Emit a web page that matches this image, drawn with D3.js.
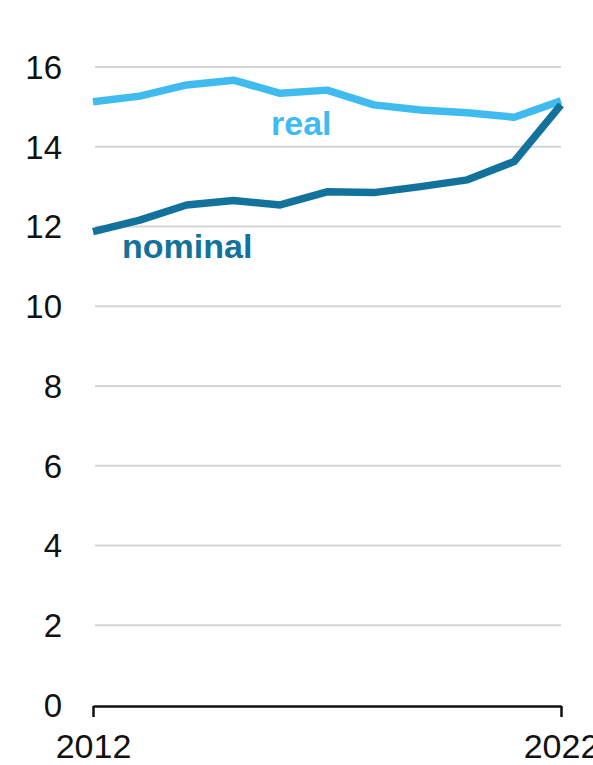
<!DOCTYPE html>
<html>
<head>
<meta charset="utf-8">
<script src="https://cdn.jsdelivr.net/npm/d3@7"></script>
<style>
  html, body { margin: 0; padding: 0; background: #fff; }
  svg { display: block; font-family: "Liberation Sans", Arial, sans-serif; }
</style>
</head>
<body>
<div id="chart"></div>
<script>
// data
const years = [2012, 2013, 2014, 2015, 2016, 2017, 2018, 2019, 2020, 2021, 2022];
const realValues = [15.13, 15.27, 15.55, 15.67, 15.34, 15.42, 15.05, 14.92, 14.85, 14.74, 15.15];
const nominalValues = [11.87, 12.16, 12.54, 12.65, 12.54, 12.87, 12.85, 13.0, 13.17, 13.63, 15.05];
const yTicks = [0, 2, 4, 6, 8, 10, 12, 14, 16];
const xTickLabels = [2012, 2022];

const width = 593, height = 765;
const margin = { left: 93, right: 32, top: 67, bottom: 60 };

const svg = d3.select('#chart').append('svg')
  .attr('width', width)
  .attr('height', height);

const x = d3.scaleLinear().domain([2012, 2022]).range([margin.left, width - margin.right]);
const y = d3.scaleLinear().domain([0, 16]).range([height - margin.bottom, margin.top]);

// gridlines
svg.append('g')
  .selectAll('line')
  .data(yTicks.filter(d => d > 0))
  .join('line')
  .attr('x1', x(2012) + 2)
  .attr('x2', x(2022))
  .attr('y1', d => y(d))
  .attr('y2', d => y(d))
  .attr('stroke', '#d4d4d4')
  .attr('stroke-width', 2);

// y labels
svg.append('g')
  .selectAll('text')
  .data(yTicks)
  .join('text')
  .attr('x', 62)
  .attr('y', d => y(d))
  .attr('dy', '0.36em')
  .attr('text-anchor', 'end')
  .attr('font-size', 33)
  .attr('fill', '#111')
  .text(d => d);

// x axis
const xAxis = d3.axisBottom(x)
  .tickValues(xTickLabels)
  .tickFormat(d3.format('d'))
  .tickSize(11)
  .tickSizeOuter(0)
  .tickPadding(17);

const gx = svg.append('g')
  .attr('transform', `translate(0,${y(0) + 1})`)
  .call(xAxis);
gx.select('.domain').attr('stroke', '#111').attr('stroke-width', 2.5);
gx.selectAll('.tick line').attr('stroke', '#111').attr('stroke-width', 2.5);
gx.selectAll('.tick text')
  .attr('font-size', 34)
  .attr('font-family', '"Liberation Sans", Arial, sans-serif')
  .attr('fill', '#111');

// lines
const line = d3.line()
  .x((d, i) => x(years[i]))
  .y(d => y(d));

const series = [
  { name: 'real', values: realValues, color: '#3fbbef' },
  { name: 'nominal', values: nominalValues, color: '#13729c' }
];

svg.append('g')
  .selectAll('path')
  .data(series)
  .join('path')
  .attr('d', d => line(d.values))
  .attr('fill', 'none')
  .attr('stroke', d => d.color)
  .attr('stroke-width', 7.5)
  .attr('stroke-linejoin', 'round');

// labels
svg.append('text')
  .attr('x', 271)
  .attr('y', 135)
  .attr('font-size', 34)
  .attr('font-weight', 'bold')
  .attr('fill', '#3fbbef')
  .text('real');

svg.append('text')
  .attr('x', 122)
  .attr('y', 258)
  .attr('font-size', 34)
  .attr('font-weight', 'bold')
  .attr('fill', '#13729c')
  .text('nominal');
</script>
</body>
</html>
